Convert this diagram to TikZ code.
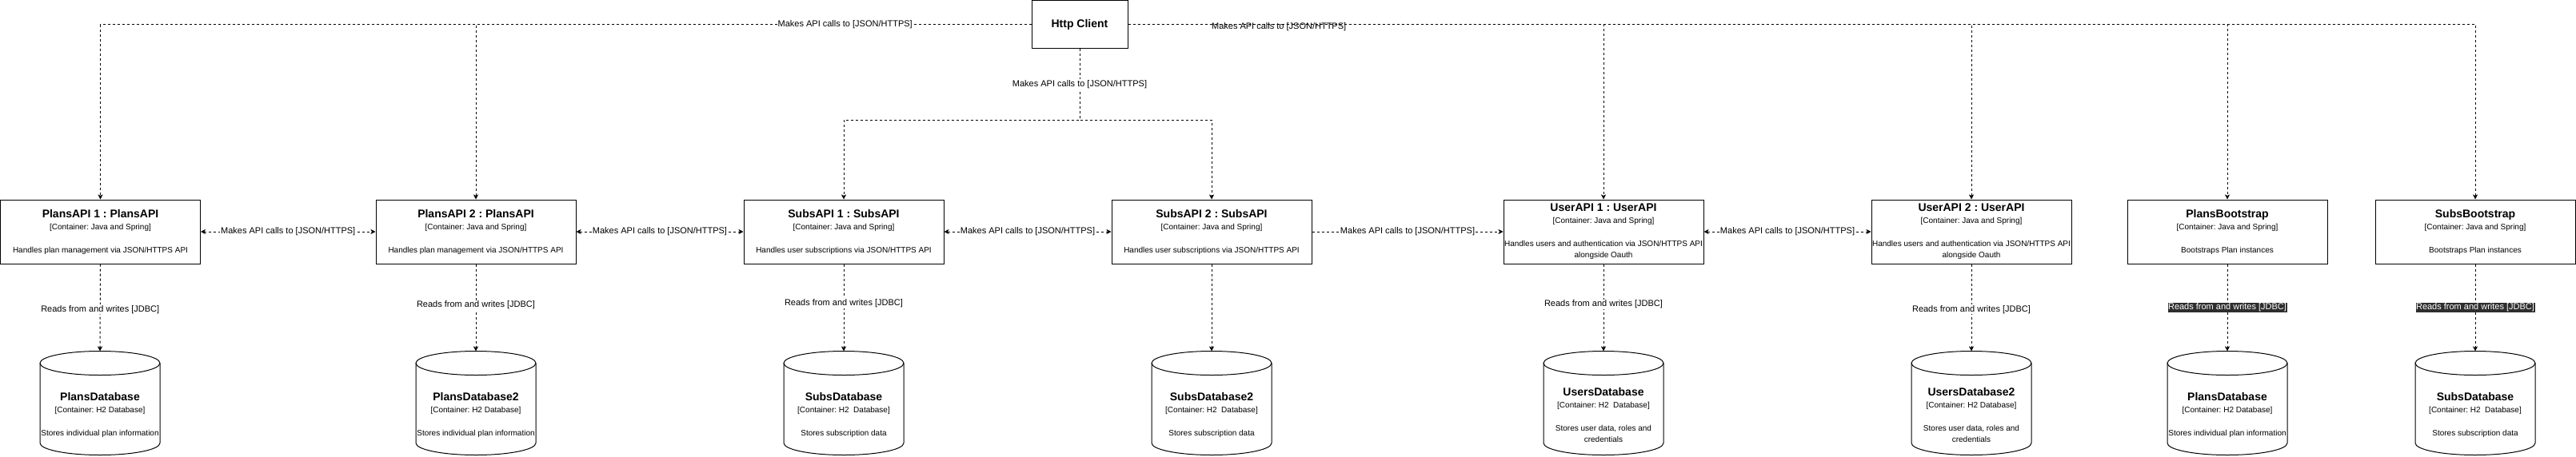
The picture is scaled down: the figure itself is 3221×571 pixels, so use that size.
\documentclass[tikz,border=0pt]{standalone}
\usepackage{fontspec}
\setmainfont{Liberation Sans}
\frenchspacing
\usetikzlibrary{arrows.meta}

\newcommand{\ctitle}[1]{{\fontsize{14}{16}\selectfont\bfseries #1}}
\newcommand{\cbox}[3]{\ctitle{#1}\\[1pt]{[}Container: #2{]}\\[15pt]#3}

\begin{document}
\begin{tikzpicture}[x=1pt,y=-1pt,line width=1pt,>={Stealth[length=6pt,width=6pt,inset=1.5pt]},
  every node/.style={font=\fontsize{10}{14}\selectfont},
  container/.style={draw,minimum width=250pt,minimum height=80pt,inner sep=0pt,align=center},
  % the node reaches below the drum so that its text sits where the drum's body is
  store/.style={minimum width=150pt,minimum height=158pt,inner sep=0pt,align=center,
    append after command={\pgfextra{
      \draw ([yshift=-15pt]\tikzlastnode.north) ellipse [x radius=75pt,y radius=15pt];
      \draw ([xshift=-75pt,yshift=-15pt]\tikzlastnode.north) -- ++(0pt,-100pt)
        arc [start angle=180,end angle=360,x radius=75pt,y radius=15pt] -- ++(0pt,100pt);}}},
  call/.style={dash pattern=on 3pt off 3pt},
  lbl/.style={fill=white,inner sep=1pt,font=\fontsize{11}{13}\selectfont},
  darklbl/.style={lbl,fill=black!82,text=white,inner sep=0.5pt}]
\useasboundingbox (0,0) rectangle (3221,571);
% client
\node[container,minimum width=120pt,minimum height=60pt] (http) at (1350,30.5) {\ctitle{Http Client}};
% containers
\node[container] (plans1) at (125.5,290) {\cbox{PlansAPI 1 : PlansAPI}{Java and Spring}{Handles plan management via JSON/HTTPS API}};
\node[container] (plans2) at (595,290) {\cbox{PlansAPI 2 : PlansAPI}{Java and Spring}{Handles plan management via JSON/HTTPS API}};
\node[container] (subs1) at (1055,290) {\cbox{SubsAPI 1 : SubsAPI}{Java and Spring}{Handles user subscriptions via JSON/HTTPS API}};
\node[container] (subs2) at (1515,290) {\cbox{SubsAPI 2 : SubsAPI}{Java and Spring}{Handles user subscriptions via JSON/HTTPS API}};
\node[container] (users1) at (2005,290) {\cbox{UserAPI 1 : UserAPI}{Java and Spring}{Handles users and authentication via JSON/HTTPS API\\alongside Oauth}};
\node[container] (users2) at (2465,290) {\cbox{UserAPI 2 : UserAPI}{Java and Spring}{Handles users and authentication via JSON/HTTPS API\\alongside Oauth}};
\node[container] (plansboot) at (2785,290) {\cbox{PlansBootstrap}{Java and Spring}{Bootstraps Plan instances}};
\node[container] (subsboot) at (3095,290) {\cbox{SubsBootstrap}{Java and Spring}{Bootstraps Plan instances}};
% databases
\node[store] (plansdb) at (125,519) {\cbox{PlansDatabase}{H2 Database}{Stores individual plan information}};
\node[store] (plansdb2) at (595,519) {\cbox{PlansDatabase2}{H2 Database}{Stores individual plan information}};
\node[store] (subsdb) at (1055,519) {\cbox{SubsDatabase}{H2\ \ Database}{Stores subscription data}};
\node[store] (subsdb2) at (1515,519) {\cbox{SubsDatabase2}{H2\ \ Database}{Stores subscription data}};
\node[store] (usersdb) at (2005,519) {\cbox{UsersDatabase}{H2\ \ Database}{Stores user data, roles and\\credentials}};
\node[store] (usersdb2) at (2465,519) {\cbox{UsersDatabase2}{H2 Database}{Stores user data, roles and\\credentials}};
\node[store] (bootplansdb) at (2785,519) {\cbox{PlansDatabase}{H2 Database}{Stores individual plan information}};
\node[store] (bootsubsdb) at (3095,519) {\cbox{SubsDatabase}{H2\ \ Database}{Stores subscription data}};

% client calls
\draw[call,->] (http.west) -| (plans2.north);
\draw[call,->] (http.west) -| node[lbl,pos=0.1]{Makes API calls to [JSON/HTTPS]} (plans1.north);
\coordinate (fork) at (1350,150);
\draw[call,->] (http.south) -- (fork) -| (subs2.north);
\draw[call,->] (http.south) -- node[lbl]{Makes API calls to [JSON/HTTPS]} (fork) -| (subs1.north);
\draw[call,->] (http.east) -| (users1.north);
\draw[call,->] (http.east) -| (users2.north);
\draw[call,->] (http.east) -| (plansboot.north);
\draw[call,->] (http.east) -| node[lbl,fill=none,pos=0.056,yshift=-3pt]{Makes API calls to [JSON/HTTPS]} (subsboot.north);

% between containers
\draw[call,<->] (plans1.east) -- node[lbl]{Makes API calls to [JSON/HTTPS]} (plans2.west);
\draw[call,<->] (plans2.east) -- node[lbl]{Makes API calls to [JSON/HTTPS]} (subs1.west);
\draw[call,<->] (subs1.east) -- node[lbl]{Makes API calls to [JSON/HTTPS]} (subs2.west);
\draw[call,->] (subs2.east) -- node[lbl]{Makes API calls to [JSON/HTTPS]} (users1.west);
\draw[call,<->] (users1.east) -- node[lbl]{Makes API calls to [JSON/HTTPS]} (users2.west);

% jdbc
\draw[call,->] (plans1.south) -- node[lbl,pos=0.52]{Reads from and writes [JDBC]} (plansdb.north);
\draw[call,->] (plans2.south) -- node[lbl,pos=0.47]{Reads from and writes [JDBC]} (plansdb2.north);
\draw[call,->] (subs1.south) -- node[lbl,pos=0.45]{Reads from and writes [JDBC]} (subsdb.north);
\draw[call,->] (subs2.south) -- (subsdb2.north);
\draw[call,->] (users1.south) -- node[lbl,pos=0.46]{Reads from and writes [JDBC]} (usersdb.north);
\draw[call,->] (users2.south) -- node[lbl,pos=0.52]{Reads from and writes [JDBC]} (usersdb2.north);
\draw[call,->] (plansboot.south) -- node[darklbl,pos=0.5]{Reads from and writes [JDBC]} (bootplansdb.north);
\draw[call,->] (subsboot.south) -- node[darklbl,pos=0.5]{Reads from and writes [JDBC]} (bootsubsdb.north);
\end{tikzpicture}
\end{document}
